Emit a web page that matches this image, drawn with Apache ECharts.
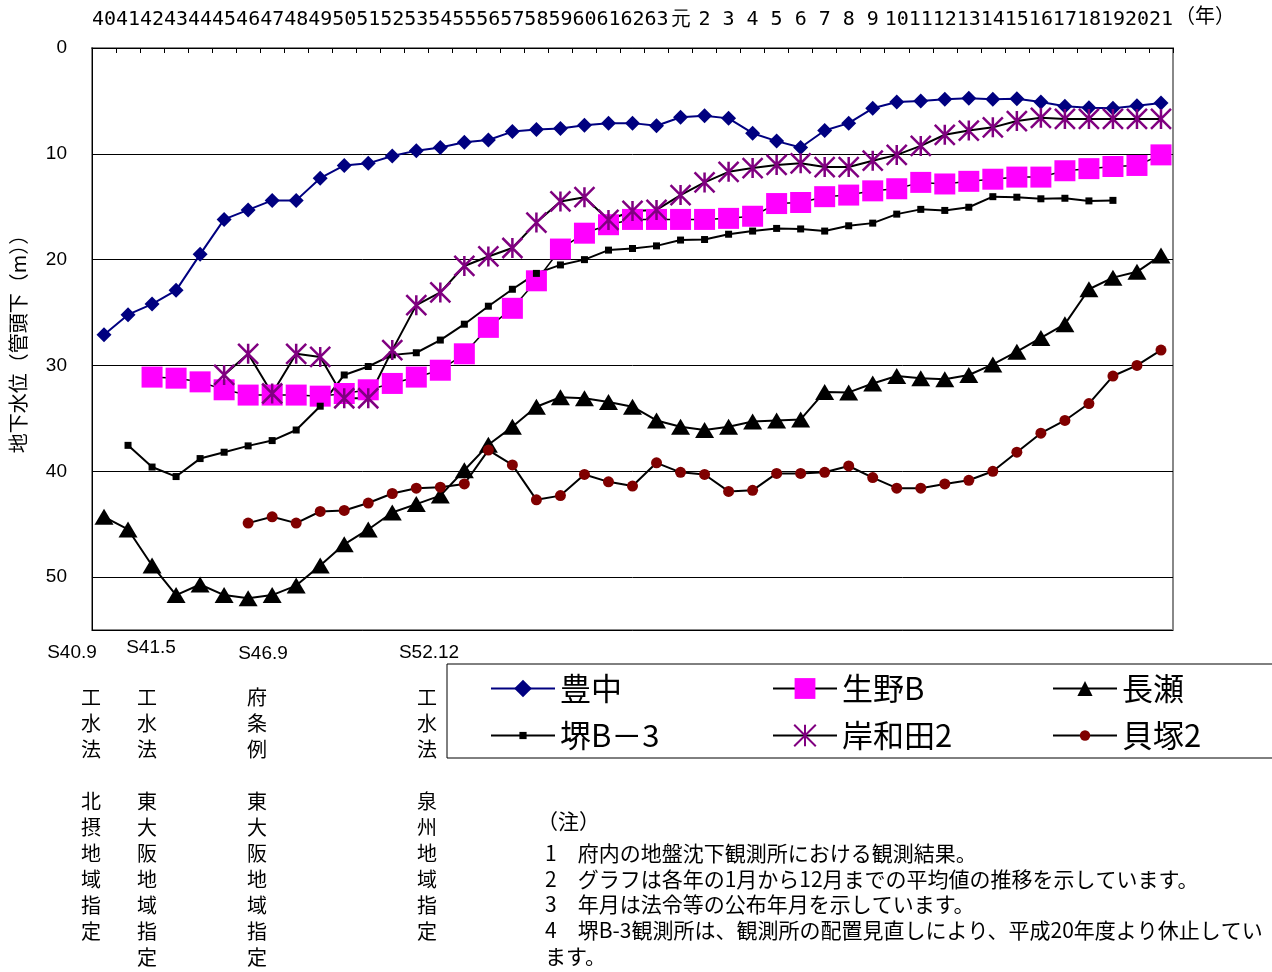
<!DOCTYPE html>
<html><head><meta charset="utf-8">
<script src="https://cdn.jsdelivr.net/npm/echarts@6/dist/echarts.min.js"></script>
<style>html,body{margin:0;padding:0;background:#fff}#c{width:1272px;height:972px}</style>
</head><body><div id="c"></div>
<script>
// Categories: Showa 40..63, Heisei 元..21
const categories = ['40','41','42','43','44','45','46','47','48','49','50','51','52','53','54','55','56','57','58','59','60','61','62','63','元','2','3','4','5','6','7','8','9','10','11','12','13','14','15','16','17','18','19','20','21'];
const seriesNames = ['豊中','生野B','長瀬','堺B－3','岸和田2','貝塚2'];
const yTicks = [0,10,20,30,40,50];

const toyonaka = [27.1,25.2,24.2,22.9,19.5,16.2,15.3,14.4,14.4,12.3,11.1,10.9,10.2,9.7,9.4,8.9,8.7,7.9,7.7,7.6,7.3,7.1,
  7.1,7.35,6.55,6.4,6.65,8.05,8.8,9.4,7.8,7.1,5.7,5.1,5.0,4.85,4.75,4.85,4.8,5.1,5.5,5.65,5.7,5.45,5.2];
const ikunoB = [null,null,31.1,31.2,31.55,32.3,32.8,32.8,32.8,32.9,32.65,32.3,31.7,31.1,30.45,28.9,26.4,24.6,22.0,19.0,17.5,16.7,
  16.2,16.2,16.2,16.2,16.1,15.9,14.7,14.6,14.05,13.9,13.5,13.3,12.7,12.85,12.6,12.4,12.2,12.2,11.6,11.4,11.2,11.1,10.1];
const nagase = [44.3,45.5,48.9,51.7,50.7,51.7,52.0,51.7,50.8,48.9,46.9,45.5,43.9,43.1,42.3,39.9,37.5,35.8,33.9,33.0,33.1,33.45,
  33.9,35.2,35.8,36.1,35.8,35.3,35.2,35.1,32.5,32.55,31.7,31.0,31.2,31.3,30.9,29.9,28.7,27.4,26.1,22.8,21.7,21.15,19.6];
const sakaiB3 = [null,37.55,39.6,40.5,38.8,38.2,37.6,37.1,36.1,33.85,30.9,30.1,29.0,28.8,27.6,26.1,24.4,22.8,21.3,20.5,20.0,19.1,
  18.95,18.7,18.15,18.1,17.6,17.3,17.05,17.1,17.3,16.8,16.55,15.7,15.25,15.35,15.05,14.05,14.1,14.25,14.2,14.45,14.4,null,null];
const kishiwada2 = [null,null,null,null,null,30.9,28.9,32.65,28.9,29.2,33.1,33.1,28.55,24.3,23.1,20.6,19.7,18.9,16.5,14.5,14.1,16.25,
  15.4,15.3,13.9,12.7,11.7,11.35,11.05,10.9,11.25,11.25,10.65,10.1,9.25,8.2,7.8,7.5,6.9,6.6,6.7,6.7,6.7,6.7,6.7];
const kaizuka2 = [null,null,null,null,null,null,44.9,44.3,44.9,43.8,43.7,43.0,42.1,41.6,41.5,41.2,38.0,39.4,42.7,42.3,40.3,41.0,
  41.4,39.2,40.1,40.3,41.9,41.8,40.2,40.2,40.1,39.5,40.6,41.6,41.6,41.2,40.85,40.0,38.2,36.4,35.2,33.6,31.0,30.0,28.55];

const eventLabels = ['S40.9','S41.5','S46.9','S52.12'];
const eventColumns = [
  '工\n水\n法\n\n北\n摂\n地\n域\n指\n定',
  '工\n水\n法\n\n東\n大\n阪\n地\n域\n指\n定',
  '府\n条\n例\n\n東\n大\n阪\n地\n域\n指\n定',
  '工\n水\n法\n\n泉\n州\n地\n域\n指\n定'
];
const notes = [
  '（注）',
  '1　府内の地盤沈下観測所における観測結果。',
  '2　グラフは各年の1月から12月までの平均値の推移を示しています。',
  '3　年月は法令等の公布年月を示しています。',
  '4　堺B-3観測所は、観測所の配置見直しにより、平成20年度より休止してい',
  'ます。'
];

const JP = "'Noto Sans CJK JP', sans-serif";
const SANS = "'Liberation Sans', Arial, sans-serif";
const ASTER = 'path://M0,0L20,20M20,0L0,20M10,0L10,20';

const chart = echarts.init(document.getElementById('c'), null, {renderer:'canvas'});

function lineSeries(name, data, opt) {
  return Object.assign({
    name, type:'line', data, showAllSymbol:true, connectNulls:false,
    animation:false, emphasis:{disabled:true}
  }, opt);
}

const legendPos = [[490,673,22],[772,673,26],[1052,673,19],[490,720,9],[772,720,27],[1052,720,13]];
const legends = seriesNames.map((n,i)=>({
  data:[n], left:legendPos[i][0], top:legendPos[i][1], padding:0,
  itemWidth:64, itemHeight:legendPos[i][2], selectedMode:false,
  textStyle:{fontSize:31, fontFamily:JP, color:'#000'}
}));

const graphics = [
  {type:'rect', shape:{x:447, y:664, width:840, height:94}, style:{fill:'none', stroke:'#000', lineWidth:1}, z:0},
  {type:'text', x:1205, y:15, style:{text:'（年）', font:"20px 'Noto Sans CJK JP'", fill:'#000', textAlign:'center', textVerticalAlign:'middle'}},
];
const evX = [72,151,263,429], evY = [653,648,654,653];
eventLabels.forEach((t,i)=>graphics.push({type:'text', x:evX[i], y:evY[i], style:{text:t, font:"19px 'Liberation Sans'", fill:'#000', textAlign:'center', textVerticalAlign:'middle'}}));
const colX = [91,147,257,427];
eventColumns.forEach((t,i)=>graphics.push({type:'text', x:colX[i], y:684, style:{text:t, font:"20px 'Noto Sans CJK JP'", lineHeight:26, fill:'#000', textAlign:'center', textVerticalAlign:'top'}}));
const noteX = [537,545,545,545,545,545], noteY = [821,853,879,904,930,956];
notes.forEach((t,i)=>graphics.push({type:'text', x:noteX[i], y:noteY[i], style:{text:t, font:"21px 'Noto Sans CJK JP'", fill:'#000', textAlign:'left', textVerticalAlign:'middle'}}));

chart.setOption({
  animation:false,
  backgroundColor:'#fff',
  grid:{left:91, right:99, top:48, bottom:342, show:true, borderColor:'#888', borderWidth:2, containLabel:false},
  legend: legends,
  graphic: graphics,
  xAxis:{
    type:'category', data:categories, position:'top', boundaryGap:true,
    axisLine:{show:true, lineStyle:{color:'#000', width:1}},
    axisTick:{show:true, inside:true, length:5, interval:0, lineStyle:{color:'#000'}},
    axisLabel:{interval:0, margin:18, fontSize:20, fontFamily:"'DejaVu Sans Mono', 'Liberation Mono', monospace", color:'#000'},
    splitLine:{show:false}
  },
  yAxis:{
    type:'value', inverse:true, min:0, max:55, interval:10,
    name:'地下水位（管頭下（m））', nameLocation:'middle', nameGap:64, nameRotate:90,
    nameTextStyle:{fontSize:20, fontFamily:JP, color:'#000'},
    axisLine:{show:true, lineStyle:{color:'#000', width:1}},
    axisTick:{show:false},
    axisLabel:{showMaxLabel:false, margin:25, fontSize:19, fontFamily:SANS, color:'#000',
      formatter:v=> yTicks.indexOf(v) >= 0 ? String(v) : ''},
    splitLine:{show:true, lineStyle:{color:'#000', width:1}}
  },
  series:[
    lineSeries(seriesNames[0], toyonaka, {symbol:'diamond', symbolSize:15, lineStyle:{color:'#000080', width:2}, itemStyle:{color:'#000080'}}),
    lineSeries(seriesNames[1], ikunoB, {symbol:'rect', symbolSize:21, lineStyle:{color:'#000', width:1.5}, itemStyle:{color:'#FF00FF'}}),
    lineSeries(seriesNames[2], nagase, {symbol:'triangle', symbolSize:[19,16], lineStyle:{color:'#000', width:2}, itemStyle:{color:'#000'}}),
    lineSeries(seriesNames[3], sakaiB3, {symbol:'rect', symbolSize:7, lineStyle:{color:'#000', width:2}, itemStyle:{color:'#000'}}),
    lineSeries(seriesNames[4], kishiwada2, {symbol:ASTER, symbolSize:20, lineStyle:{color:'#000', width:2}, itemStyle:{color:'#800080', borderColor:'#800080', borderWidth:2.5}}),
    lineSeries(seriesNames[5], kaizuka2, {symbol:'circle', symbolSize:11, lineStyle:{color:'#000', width:2}, itemStyle:{color:'#800000'}})
  ]
});
</script>
</body></html>
